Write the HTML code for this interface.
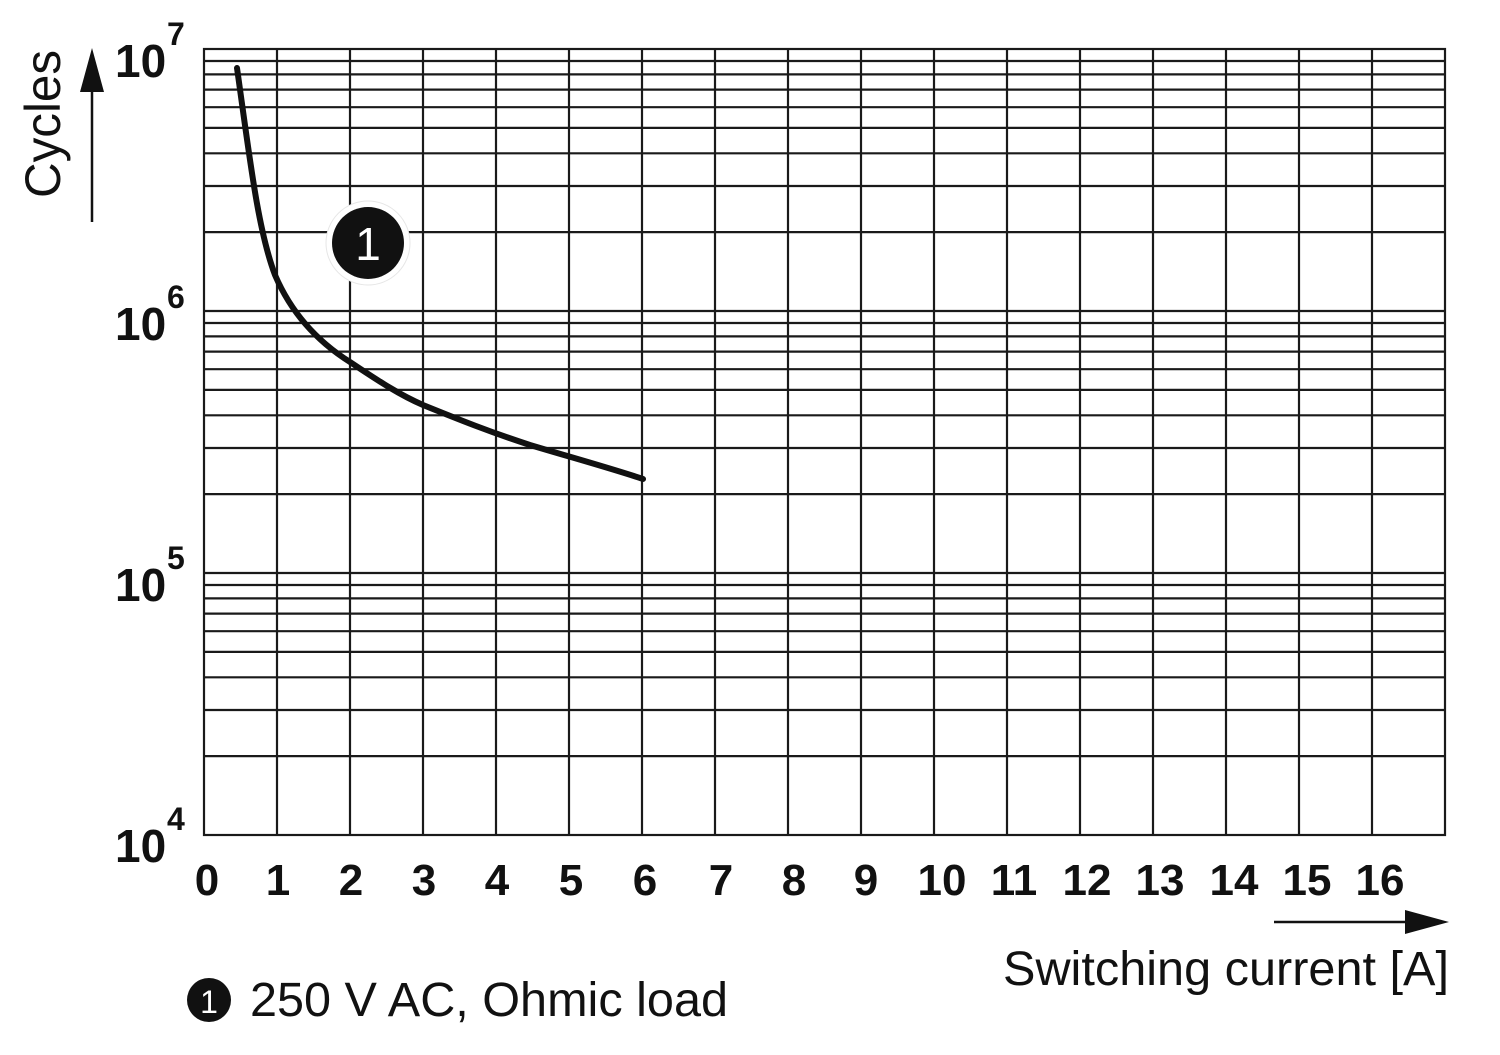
<!DOCTYPE html>
<html><head><meta charset="utf-8"><style>body{margin:0;background:#fff}svg{display:block}</style></head>
<body>
<svg width="1500" height="1055" viewBox="0 0 1500 1055" xmlns="http://www.w3.org/2000/svg" font-family="Liberation Sans, Arial, sans-serif">
<g stroke="#1a1a1a" stroke-width="2.2" fill="none">
<path d="M204 756.1H1445M204 710H1445M204 677.3H1445M204 651.9H1445M204 631.2H1445M204 613.6H1445M204 598.4H1445M204 585H1445M204 573H1445
M204 494.1H1445M204 448H1445M204 415.3H1445M204 389.9H1445M204 369.2H1445M204 351.6H1445M204 336.4H1445M204 323H1445M204 311H1445
M204 232.1H1445M204 186H1445M204 153.3H1445M204 127.9H1445M204 107.2H1445M204 89.6H1445M204 74.4H1445M204 61H1445"/>
<path d="M277 49V835M350 49V835M423 49V835M496 49V835M569 49V835M642 49V835M715 49V835M788 49V835M861 49V835M934 49V835M1007 49V835M1080 49V835M1153 49V835M1226 49V835M1299 49V835M1372 49V835"/>
<rect x="204" y="49" width="1241" height="786"/>
</g>
<path d="M237 68 C250 160 258 230 275 275 C290 310 315 340 350 362 C380 382 400 395 423 405 C460 420 490 432 530 445 C570 457 610 468 643 479" stroke="#111" stroke-width="6" fill="none" stroke-linecap="round"/>
<circle cx="368" cy="243" r="42" fill="#fff" stroke="#e6e6e6" stroke-width="1"/>
<circle cx="368" cy="243" r="36" fill="#111"/>
<text x="368" y="260" text-anchor="middle" font-size="46" fill="#fff">1</text>
<g font-weight="bold" font-size="46" fill="#111">
<text x="115" y="77">10</text><text x="167" y="45" font-size="32">7</text>
<text x="115" y="340">10</text><text x="167" y="308" font-size="32">6</text>
<text x="115" y="601">10</text><text x="167" y="569" font-size="32">5</text>
<text x="115" y="862">10</text><text x="167" y="830" font-size="32">4</text>
</g>
<g font-weight="bold" font-size="44" fill="#111" text-anchor="middle">
<text x="207" y="895">0</text><text x="278" y="895">1</text><text x="351" y="895">2</text><text x="424" y="895">3</text><text x="497" y="895">4</text><text x="571" y="895">5</text><text x="645" y="895">6</text><text x="721" y="895">7</text><text x="794" y="895">8</text><text x="866" y="895">9</text><text x="942" y="895">10</text><text x="1014" y="895">11</text><text x="1087" y="895">12</text><text x="1160" y="895">13</text><text x="1234" y="895">14</text><text x="1307" y="895">15</text><text x="1380" y="895">16</text>
</g>
<text transform="translate(60,124) rotate(-90)" text-anchor="middle" font-size="50" fill="#111" textLength="148" lengthAdjust="spacingAndGlyphs">Cycles</text>
<line x1="92" y1="222" x2="92" y2="80" stroke="#111" stroke-width="2.5"/>
<polygon points="92,48 80,92 104,92" fill="#111"/>
<line x1="1274" y1="922" x2="1415" y2="922" stroke="#111" stroke-width="2.5"/>
<polygon points="1449,922 1405,910 1405,934" fill="#111"/>
<text x="1003" y="985" font-size="48" fill="#111" textLength="446" lengthAdjust="spacingAndGlyphs">Switching current [A]</text>
<circle cx="209" cy="1000" r="22" fill="#111"/>
<text x="209" y="1013" text-anchor="middle" font-size="32" fill="#fff">1</text>
<text x="250" y="1016" font-size="48" fill="#111" textLength="478" lengthAdjust="spacingAndGlyphs">250 V AC, Ohmic load</text>
</svg>
</body></html>
